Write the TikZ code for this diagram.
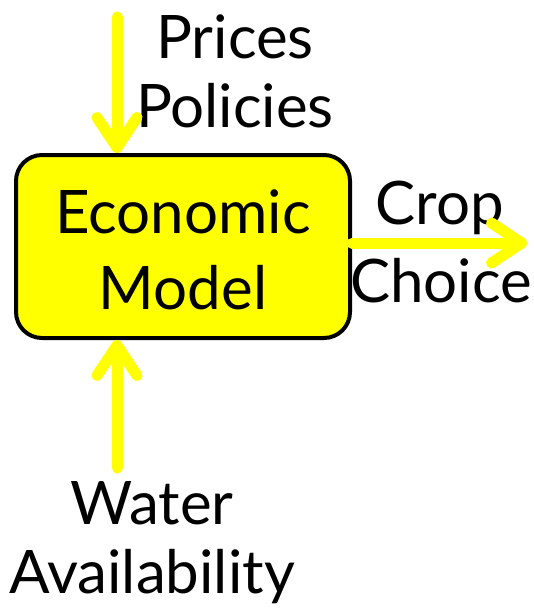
\documentclass[tikz,border=0pt]{standalone}
\usepackage{fontspec}
\setmainfont{Lato}
\usetikzlibrary{arrows.meta}
\definecolor{hiyellow}{RGB}{255,255,0}
\begin{document}
\begin{tikzpicture}[x=1pt,y=-1pt,
  lbl/.style={font=\fontsize{60}{70}\selectfont, text=black, align=center, inner sep=0pt},
  flow/.style={draw=hiyellow, line width=11pt, line cap=round,
    -{Straight Barb[length=30pt, width=40pt, line width=11pt, round]}},
  modelbox/.style={draw=black, line width=4pt, fill=hiyellow, rounded corners=26pt,
    minimum width=334pt, minimum height=183pt, inner sep=0pt}]
\useasboundingbox (0,0) rectangle (534,613);
\node[modelbox] (model) at (183,246.5) {};
\node[lbl] (econ) at (183,212) {Economic};
\node[lbl] (mdl) at (183,288) {Model};
\node[lbl] (prices) at (235,37) {Prices};
\node[lbl] (policies) at (235,106) {Policies};
\node[lbl] (crop) at (440,208) {Crop};
\node[lbl] (choice) at (441,281) {Choice};
\node[lbl] (water) at (152,503) {Water};
\node[lbl] (avail) at (152,577) {Availability};
\coordinate (topstart) at (117,17);
\coordinate (botstart) at (117,468);
\coordinate (rightend) at (527,243);
\draw[flow] (topstart) -- (model.north -| topstart);
\draw[flow] (botstart) -- (model.south -| botstart);
\draw[flow] (model.east |- rightend) -- (rightend);
\end{tikzpicture}
\end{document}
